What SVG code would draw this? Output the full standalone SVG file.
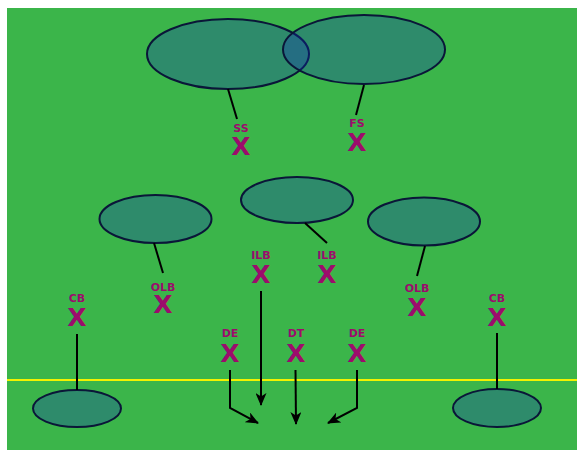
<svg xmlns="http://www.w3.org/2000/svg" width="577" height="450" viewBox="0 0 577 450">
  <defs>
    <style>
      .zone { fill: #102cbb; fill-opacity: 0.3; stroke: #0a1638; stroke-width: 2; }
      .conn { stroke: #000; stroke-width: 2; fill: none; }
      .arr { stroke: #000; stroke-width: 2; fill: none; marker-end: url(#ah); }
      .lbl { font-family: "DejaVu Sans", "Liberation Sans", sans-serif; font-weight: bold; font-size: 11px; fill: #9c0c6c; text-anchor: middle; }
      .x { font-family: "DejaVu Sans", "Liberation Sans", sans-serif; font-weight: bold; font-size: 25px; fill: #9c0c6c; text-anchor: middle; }
    </style>
    <marker id="ah" viewBox="0 0 13 11" refX="12" refY="5.5" markerWidth="13" markerHeight="11" markerUnits="userSpaceOnUse" orient="auto">
      <path d="M0,0 L13,5.5 L0,11 L3.5,5.5 Z" fill="#000"/>
    </marker>
  </defs>

  <rect x="7" y="8" width="570" height="442" fill="#3bb54a"/>
  <line x1="7" y1="380" x2="577" y2="380" stroke="#f2f200" stroke-width="2"/>

  <g id="zone-deep-left"><ellipse class="zone" cx="228" cy="54" rx="81" ry="35"/></g>
  <g id="zone-deep-right"><ellipse class="zone" cx="364" cy="49.5" rx="81" ry="34.5"/></g>
  <g id="zone-hook-left"><ellipse class="zone" cx="155.5" cy="219" rx="56" ry="24"/></g>
  <g id="zone-middle"><ellipse class="zone" cx="297" cy="200" rx="56" ry="23"/></g>
  <g id="zone-hook-right"><ellipse class="zone" cx="424" cy="221.5" rx="56" ry="24"/></g>
  <g id="zone-flat-left"><ellipse class="zone" cx="77" cy="408.5" rx="44" ry="18.5"/></g>
  <g id="zone-flat-right"><ellipse class="zone" cx="497" cy="408" rx="44" ry="19"/></g>

  <g id="connectors">
    <line class="conn" x1="228" y1="89" x2="237" y2="119"/>
    <line class="conn" x1="364" y1="85" x2="356" y2="115"/>
    <line class="conn" x1="154" y1="243" x2="163" y2="273"/>
    <line class="conn" x1="305" y1="223" x2="327" y2="243"/>
    <line class="conn" x1="425" y1="246" x2="417" y2="276"/>
    <line class="conn" x1="77" y1="334" x2="77" y2="390"/>
    <line class="conn" x1="497" y1="333" x2="497" y2="389"/>
    <line class="arr" x1="261" y1="291" x2="261" y2="405"/>
    <polyline class="arr" points="230,370 230,408 258,423"/>
    <line class="arr" x1="295.5" y1="370" x2="296" y2="424"/>
    <polyline class="arr" points="357,370 357,408 328,423"/>
  </g>

  <g id="ss"><text class="lbl" x="241" y="132">SS</text><text class="x" x="241" y="155">X</text></g>
  <g id="fs"><text class="lbl" x="357" y="127">FS</text><text class="x" x="357" y="151">X</text></g>
  <g id="ilb-left"><text class="lbl" x="261" y="259">ILB</text><text class="x" x="261" y="283">X</text></g>
  <g id="ilb-right"><text class="lbl" x="327" y="259">ILB</text><text class="x" x="327" y="283">X</text></g>
  <g id="olb-left"><text class="lbl" x="163" y="291">OLB</text><text class="x" x="163" y="313">X</text></g>
  <g id="olb-right"><text class="lbl" x="417" y="292">OLB</text><text class="x" x="417" y="316">X</text></g>
  <g id="cb-left"><text class="lbl" x="77" y="302">CB</text><text class="x" x="77" y="326">X</text></g>
  <g id="cb-right"><text class="lbl" x="497" y="302">CB</text><text class="x" x="497" y="326">X</text></g>
  <g id="de-left"><text class="lbl" x="230" y="337">DE</text><text class="x" x="230" y="362">X</text></g>
  <g id="dt"><text class="lbl" x="296" y="337">DT</text><text class="x" x="296" y="362">X</text></g>
  <g id="de-right"><text class="lbl" x="357" y="337">DE</text><text class="x" x="357" y="362">X</text></g>
</svg>
